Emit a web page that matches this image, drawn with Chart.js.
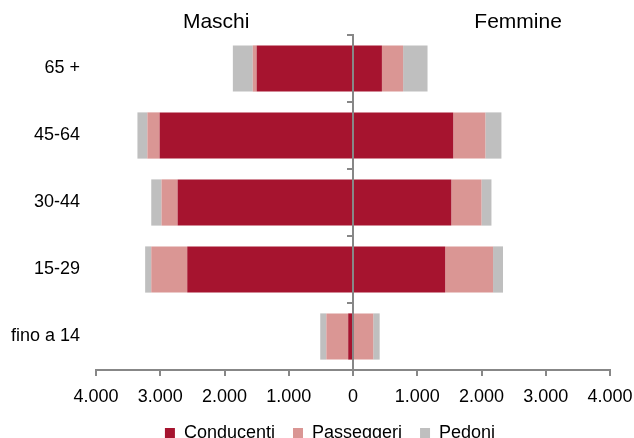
<!DOCTYPE html>
<html>
<head>
<meta charset="utf-8">
<script src="https://cdn.jsdelivr.net/npm/chart.js@4"></script>
<style>
  html, body { margin: 0; padding: 0; background: #fff; }
  #wrap { width: 634px; height: 438px; overflow: hidden; }
</style>
</head>
<body>
<div id="wrap"><canvas id="chart" width="634" height="452"></canvas></div>
<script>
// age classes, top to bottom
const ageGroups = ['65 +', '45-64', '30-44', '15-29', 'fino a 14'];
const seriesNames = ['Conducenti', 'Passeggeri', 'Pedoni'];
const sideTitles = ['Maschi', 'Femmine'];

// Maschi (shown on the left, stored as positive numbers)
const maschiConducenti = [1500, 3010, 2730, 2580, 75];
const maschiPasseggeri = [60, 190, 250, 560, 340];
const maschiPedoni = [310, 155, 160, 95, 95];

// Femmine (right)
const femmineConducenti = [450, 1560, 1530, 1435, 15];
const femminePasseggeri = [330, 500, 470, 745, 300];
const femminePedoni = [380, 250, 155, 155, 100];

const xTicks = [-4000, -3000, -2000, -1000, 0, 1000, 2000, 3000, 4000];

const colors = ['#A6142F', '#DA9694', '#BFBFBF'];
const axisGray = '#878787';
const font = 'Liberation Sans, Arial, sans-serif';

const fmt = v => String(Math.abs(v)).replace(/\B(?=(\d{3})+(?!\d))/g, '.');

const maschi = [maschiConducenti, maschiPasseggeri, maschiPedoni];
const femmine = [femmineConducenti, femminePasseggeri, femminePedoni];

const datasets = [];
seriesNames.forEach((name, i) => {
  datasets.push({
    label: name,
    data: maschi[i].map(v => -v),
    backgroundColor: colors[i],
    stack: 's'
  });
  datasets.push({
    label: name + ' F',
    data: femmine[i],
    backgroundColor: colors[i],
    stack: 's'
  });
});

// side headers above the plot + nudge the legend to sit under the plot
const headerPlugin = {
  id: 'headers',
  afterLayout(chart) {
    const lg = chart.legend;
    const d = 330 - (lg.left + lg.right) / 2;
    lg.left += d;
    lg.right += d;
  },
  afterDraw(chart) {
    const ctx = chart.ctx;
    const x = chart.scales.x;
    ctx.save();
    ctx.font = '21px ' + font;
    ctx.fillStyle = '#000';
    ctx.textAlign = 'center';
    ctx.textBaseline = 'middle';
    ctx.fillText(sideTitles[0], x.getPixelForValue(-2130), 22);
    ctx.fillText(sideTitles[1], x.getPixelForValue(2570), 22);
    ctx.restore();
  }
};

new Chart(document.getElementById('chart'), {
  type: 'bar',
  data: { labels: ageGroups, datasets: datasets },
  options: {
    indexAxis: 'y',
    responsive: false,
    animation: false,
    layout: { padding: { top: 35, left: 0, right: 24, bottom: 0 } },
    datasets: { bar: { categoryPercentage: 1, barPercentage: 0.69 } },
    scales: {
      x: {
        stacked: true,
        min: -4000,
        max: 4000,
        afterBuildTicks: s => { s.ticks = xTicks.map(v => ({ value: v })); },
        grid: { drawOnChartArea: false, drawTicks: true, tickLength: 6, color: axisGray, lineWidth: 2 },
        border: { color: axisGray, width: 2 },
        ticks: { color: '#000', font: { size: 18, family: font }, padding: 10, maxRotation: 0, callback: v => fmt(v) },
        afterFit: s => { s.height = 36; s.paddingLeft = 0; s.paddingRight = 0; }
      },
      y: {
        stacked: true,
        grid: { display: false, drawTicks: false },
        border: { display: false },
        ticks: { color: '#000', font: { size: 18, family: font }, padding: 16 },
        afterFit: s => { s.width = 96; }
      },
      yAxis0: {
        type: 'category',
        axis: 'y',
        position: { x: 0 },
        offset: true,
        z: 1,
        grid: { offset: true, drawOnChartArea: false, drawTicks: true, tickLength: 5, color: axisGray, lineWidth: 2 },
        border: { color: axisGray, width: 2 },
        ticks: { display: false }
      }
    },
    plugins: {
      tooltip: { enabled: false },
      legend: {
        position: 'bottom',
        labels: {
          filter: item => item.datasetIndex % 2 === 0,
          boxWidth: 10,
          boxHeight: 10,
          padding: 18,
          color: '#000',
          font: { size: 18, family: font }
        }
      }
    }
  },
  plugins: [headerPlugin]
});
</script>
</body>
</html>
